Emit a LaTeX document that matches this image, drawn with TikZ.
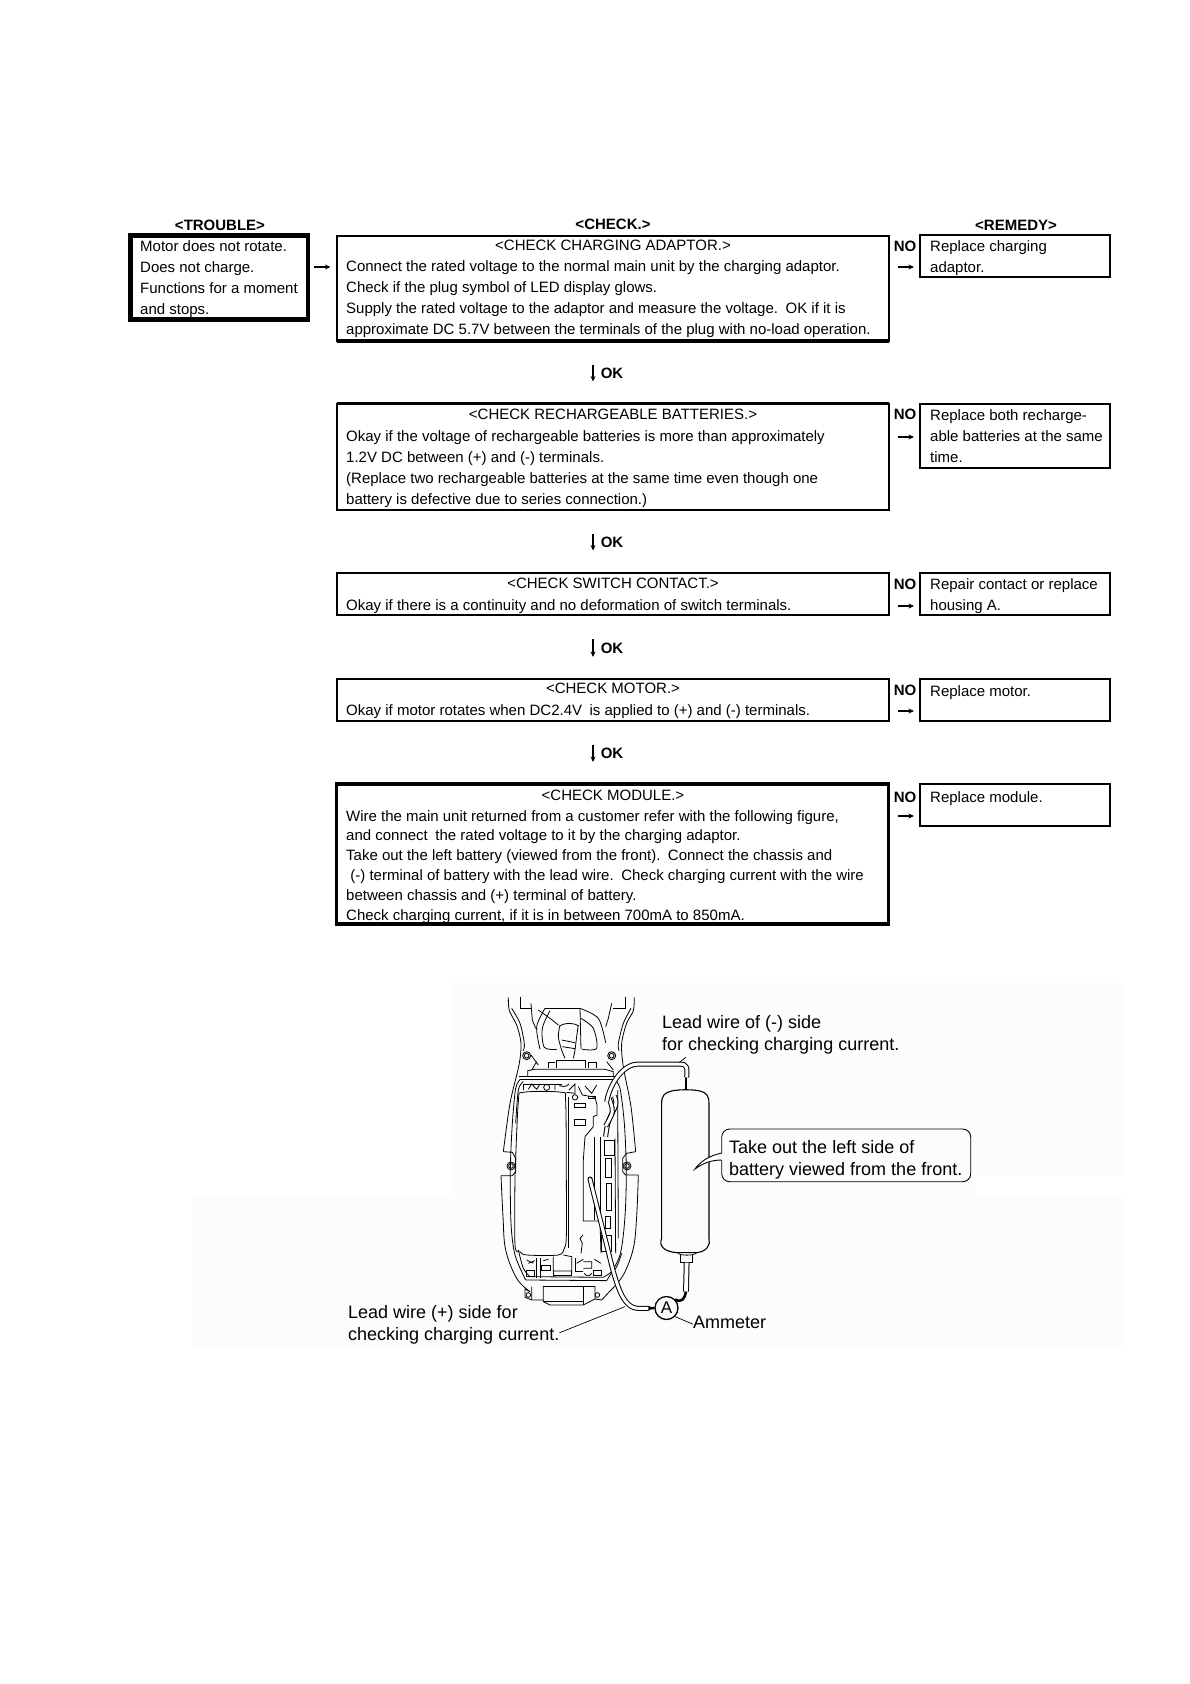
\documentclass[tikz,border=0pt]{standalone}
\usepackage{fontspec}
\setmainfont{Liberation Sans}
\usetikzlibrary{arrows.meta, positioning, calc}

\begin{document}
\begin{tikzpicture}[
    x=1pt, y=-1pt,
    framebox/.style={rectangle, draw, line width=2pt, inner sep=0pt, outer sep=0pt},
    heavybox/.style={framebox, line width=3.6pt},
    head/.style={font=\fontsize{15}{18}\selectfont\bfseries, inner sep=0pt},
    title/.style={font=\fontsize{15}{18}\selectfont, inner sep=0pt},
    body/.style={anchor=north west, inner sep=0pt, align=left, font=\fontsize{15}{21.1}\selectfont, execute at begin node=\strut},
    tagtext/.style={font=\fontsize{15}{18}\selectfont\bfseries, inner sep=0pt},
    arrow/.style={-{Stealth[length=5.5pt,width=5pt]}, line width=1.6pt},
    note/.style={anchor=north west, inner sep=0pt, align=left, font=\fontsize{18}{22}\selectfont, execute at begin node=\strut},
    leader/.style={line width=0.7pt},
    part/.style={line width=0.8pt},
    tubeout/.style={line width=5pt},
    tubein/.style={line width=3pt, white},
    darkwire/.style={line width=2.6pt},
]
\useasboundingbox (0,0) rectangle (1190,1684);

% faint scan patches behind the figure
\fill[black!1] (451,983) -- (1122,983) -- (1122,1176) -- (976,1176) -- (976,1197) -- (1122,1197) -- (1122,1348) -- (193,1348) -- (193,1197) -- (451,1197) -- cycle;

% column heads
\node[head] (troublehead) at (220,225.5) {<TROUBLE>};
\node[head] (checkhead) at (613,224) {<CHECK.>};
\node[head] (remedyhead) at (1016,225.5) {<REMEDY>};

% trouble box
\node[heavybox, line width=4.6pt, minimum width=177.5pt, minimum height=84pt] (trouble) at (219.2,277.5) {};
\node[body] (troubletext) at (140,240) {Motor does not rotate.\\Does not charge.\\Functions for a moment\\and stops.};

% check boxes
\node[framebox, minimum width=552pt, minimum height=105pt] (chargecheck) at (612.5,288) {};
\draw[line width=4pt] (chargecheck.south west) -- (chargecheck.south east);
\node[title] (chargetitle) at (613,245) {<CHECK CHARGING ADAPTOR.>};
\node[body] (chargetext) at (346,260) {Connect the rated voltage to the normal main unit by the charging adaptor.\\Check if the plug symbol of LED display glows.\\Supply the rated voltage to the adaptor and measure the voltage.\enspace OK if it is\\approximate DC 5.7V between the terminals of the plug with no-load operation.};

\node[framebox, minimum width=552pt, minimum height=106pt] (battcheck) at (612.5,456.5) {};
\draw[line width=3pt] (battcheck.north west) -- (battcheck.north east);
\node[title] (batttitle) at (613,414.6) {<CHECK RECHARGEABLE BATTERIES.>};
\node[body] (batttext) at (346,430.5) {Okay if the voltage of rechargeable batteries is more than approximately\\1.2V DC between (+) and (-) terminals.\\(Replace two rechargeable batteries at the same time even though one\\battery is defective due to series connection.)};

\node[framebox, minimum width=552pt, minimum height=42pt] (switchcheck) at (612.5,593.5) {};
\node[title] (switchtitle) at (613,583) {<CHECK SWITCH CONTACT.>};
\node[body] (switchtext) at (346,596) {Okay if there is a continuity and no deformation of switch terminals.};

\node[framebox, minimum width=552pt, minimum height=42pt] (motorcheck) at (612.5,700) {};
\node[title] (motortitle) at (613,688) {<CHECK MOTOR.>};
\node[body] (motortext) at (346,701) {Okay if motor rotates when DC2.4V\enspace is applied to (+) and (-) terminals.};

\node[heavybox, minimum width=552pt, minimum height=140pt] (modulecheck) at (612.5,854) {};
\node[title] (moduletitle) at (613,795) {<CHECK MODULE.>};
\node[body, font=\fontsize{15}{19.9}\selectfont] (moduletext) at (346,810) {Wire the main unit returned from a customer refer with the following figure,\\and connect\enspace the rated voltage to it by the charging adaptor.\\Take out the left battery (viewed from the front).\enspace Connect the chassis and\\\ (-) terminal of battery with the lead wire.\enspace Check charging current with the wire\\between chassis and (+) terminal of battery.\\Check charging current, if it is in between 700mA to 850mA.};

% remedy boxes
\node[framebox, minimum width=190pt, minimum height=42pt] (chargefix) at (1015,256) {};
\node[body] (chargefixtext) at (930,240) {Replace charging\\adaptor.};
\node[framebox, minimum width=190pt, minimum height=64pt] (battfix) at (1015,435.5) {};
\node[body] (battfixtext) at (930,409) {Replace both recharge-\\able batteries at the same\\time.};
\node[framebox, minimum width=190pt, minimum height=42pt] (switchfix) at (1015,593.5) {};
\node[body] (switchfixtext) at (930,578) {Repair contact or replace\\housing A.};
\node[framebox, minimum width=190pt, minimum height=42pt] (motorfix) at (1015,700) {};
\node[body] (motorfixtext) at (930,682) {Replace motor.};
\node[framebox, minimum width=190pt, minimum height=42pt] (modulefix) at (1015,805) {};
\node[body] (modulefixtext) at (930,788) {Replace module.};

% NO tags and side arrows
\node[tagtext] (noa) at (905,246) {NO};
\node[tagtext] (nob) at (905,414.6) {NO};
\node[tagtext] (noc) at (905,584) {NO};
\node[tagtext] (nod) at (905,690) {NO};
\node[tagtext] (noe) at (905,797) {NO};
\draw[arrow, shorten <=6pt, shorten >=6pt] (trouble.east |- 0,267) -- (chargecheck.west |- 0,267);
\draw[arrow, shorten <=9pt, shorten >=6pt] (chargecheck.east |- 0,267) -- (chargefix.west |- 0,267);
\draw[arrow, shorten <=9pt, shorten >=6pt] (battcheck.east |- 0,437) -- (battfix.west |- 0,437);
\draw[arrow, shorten <=9pt, shorten >=6pt] (switchcheck.east |- 0,606) -- (switchfix.west |- 0,606);
\draw[arrow, shorten <=9pt, shorten >=6pt] (motorcheck.east |- 0,711) -- (motorfix.west |- 0,711);
\draw[arrow, shorten <=9pt, shorten >=6pt] (modulecheck.east |- 0,816) -- (modulefix.west |- 0,816);

% OK tags and down arrows
\node[tagtext] (oka) at (612,373) {OK};
\node[tagtext] (okb) at (612,542) {OK};
\node[tagtext] (okc) at (612,648) {OK};
\node[tagtext] (okd) at (612,753) {OK};
\draw[arrow, shorten <=24pt, shorten >=22pt] (593,0 |- chargecheck.south) -- (593,0 |- battcheck.north);
\draw[arrow, shorten <=24pt, shorten >=22pt] (593,0 |- battcheck.south) -- (593,0 |- switchcheck.north);
\draw[arrow, shorten <=24pt, shorten >=22pt] (593,0 |- switchcheck.south) -- (593,0 |- motorcheck.north);
\draw[arrow, shorten <=24pt, shorten >=22pt] (593,0 |- motorcheck.south) -- (593,0 |- modulecheck.north);

% figure labels
\node[note] (minuslabel) at (662,1015) {Lead wire of (-) side\\for checking charging current.};
\node[note] (battlabel) at (729,1140) {Take out the left side of\\battery viewed from the front.};
\node[note] (pluslabel) at (348,1305.5) {Lead wire (+) side for\\checking charging current.};
\node[note] (meterlabel) at (693,1313) {Ammeter};
\node[draw, circle, line width=1.3pt, minimum size=23pt, inner sep=0pt, font=\fontsize{17}{20}\selectfont] (ammeter) at (666.5,1308) {A};

% the device, traced
\begin{scope}[shift={(495,990)}, x=0.3333pt, y=-0.3333pt]
% housing sides
\draw[part] plot[smooth, tension=.5] coordinates {(40,22)(43,62)(65,105)(78,160)(72,225)(45,340)(25,485)};
\draw[part] plot[smooth, tension=.5] coordinates {(50,55)(75,100)(88,160)(85,182)};
\draw[part] plot[smooth, tension=.5] coordinates {(418,22)(415,62)(395,100)(380,160)(385,230)(408,350)(422,485)};
\draw[part] plot[smooth, tension=.5] coordinates {(408,55)(385,100)(370,160)(372,182)};
\draw[part] (25,485) -- (52,487) -- (62,505) -- (62,545) -- (52,557) -- (18,557);
\draw[part] (422,485) -- (395,490) -- (383,505) -- (383,545) -- (392,555) -- (430,555);
\draw[part] plot[smooth, tension=.6] coordinates {(18,557)(24,680)(32,780)(65,865)(105,905)};
\draw[part] plot[smooth, tension=.6] coordinates {(430,555)(425,680)(415,775)(385,855)(345,903)};
\draw[part] (48,528) circle (12) (48,528) circle (7);
\draw[part] (396,528) circle (12) (396,528) circle (7);
\draw[part] (95,197) circle (12) (95,197) circle (7);
\draw[part] (350,197) circle (12) (350,197) circle (7);
% inner frame
\draw[part] (72,258) -- (360,258);
\draw[part] (76,268) -- (358,268);
\draw[part] plot[smooth, tension=.5] coordinates {(76,268)(62,295)(52,400)(46,540)(48,700)(60,795)(92,870)};
\draw[part] plot[smooth, tension=.5] coordinates {(358,268)(375,295)(388,400)(394,540)(390,680)(375,795)(335,872)};
\draw[part] plot[smooth, tension=.5] coordinates {(85,275)(70,300)(62,400)};
\draw[part] plot[smooth, tension=.5] coordinates {(70,780)(85,835)(105,860)};
\draw[part] plot[smooth, tension=.5] coordinates {(380,790)(362,835)(325,862)};
\draw[part] (92,870) -- (335,872);
\draw[part] (100,860) -- (325,862);
% head end
\draw[part] (75,20) -- (75,55) -- (108,55);
\draw[part] (390,20) -- (390,55) -- (355,55);
\draw[part] (108,40) -- (112,90) -- (122,115);
\draw[part] (350,40) -- (340,85) -- (332,110);
\draw[part] (150,55) -- (255,55);
\draw[part] plot[smooth] coordinates {(150,55)(125,110)(135,178)};
\draw[part] plot[smooth] coordinates {(165,62)(142,115)(148,172)(185,178)};
\draw[part] plot[smooth] coordinates {(255,55)(310,85)(332,158)};
\draw[part] plot[smooth] coordinates {(258,85)(295,115)(305,175)(262,178)};
\draw[part] plot[smooth] coordinates {(130,60)(165,85)(190,105)};
\draw[part] (255,55) -- (258,178);
\draw[part] plot[smooth] coordinates {(195,105)(190,140)(200,180)(210,205)};
\draw[part] plot[smooth] coordinates {(250,105)(245,140)(240,180)(235,205)};
\draw[part] (195,108) .. controls (205,98) and (240,98) .. (250,108);
\draw[part] (200,150) -- (240,158) (202,170) -- (240,176);
\draw[part] (185,235) -- (185,210) -- (270,210) -- (270,235);
\draw[part] (160,235) -- (160,218) -- (180,218) (280,235) -- (280,218) -- (305,218) -- (305,235);
\draw[part] (98,258) -- (98,242) -- (120,238) -- (330,238) -- (355,245) -- (355,258);
\draw[part] (108,195) -- (130,225) (110,240) -- (125,215);
\draw[part] (335,215) -- (355,240);
% battery in the unit
\draw[part] plot[smooth, tension=.5] coordinates {(60,560)(70,335)(85,307)(200,307)(212,335)(214,560)(214,740)(208,775)(190,795)(95,795)(75,785)(60,765)(60,560)};
\draw[part] (219,320) -- (219,775);
% contacts at top of the battery
\draw[part] (85,300) -- (85,282) -- (200,282);
\draw[part] (100,298) -- (110,282) -- (125,298) -- (135,282);
\draw[part] (155,292) circle (9);
\draw[part] (180,282) -- (180,300) (190,282) .. controls (195,292) and (215,292) .. (222,282);
\draw[part] (222,300) -- (240,282) -- (240,310) -- (215,307);
% middle parts
\draw[part] (240,322) circle (8);
\draw[part] (237,340) rectangle (270,352);
\draw[part] (238,388) rectangle (272,405);
\draw[part] (250,290) -- (262,315) -- (300,322) -- (306,345) -- (306,375) -- (295,380) -- (295,410) -- (270,440) -- (265,510) -- (265,693) -- (315,693);
\draw[part] (270,288) -- (290,310) -- (305,285);
\draw[part] (280,318) rectangle (300,326);
\draw[part] (264,735) -- (255,745) -- (262,760) -- (258,790);
\draw[part] (315,693) -- (318,790);
\draw[part] (298,440) -- (298,690);
\draw[part] (315,440) -- (315,690);
% module strip
\draw[part] (328,450) rectangle (358,497);
\draw[part] (332,505) rectangle (349,562);
\draw[part] (335,580) rectangle (350,660);
\draw[part] (330,680) rectangle (347,715);
\draw[part] (320,735) rectangle (350,785);
\draw[part] (360,445) -- (362,790) (368,300) -- (370,745);
% bottom end
\draw[part] (95,840) rectangle (118,860);
\draw[part] (95,810) -- (115,820) (100,820) -- (120,812);
\draw[part] (125,805) -- (125,865) (135,805) -- (135,865);
\draw[part] (140,825) rectangle (165,840);
\draw[part] (145,812) -- (160,808);
\draw[part] (175,800) -- (175,843) -- (230,843) -- (230,800) -- (205,795);
\draw[part] (175,843) -- (175,857) -- (230,857) -- (230,843);
\draw[part] (240,805) -- (240,845) -- (265,845);
\draw[part] (245,820) -- (265,808) (265,835) -- (290,835) -- (290,815) -- (265,815);
\draw[part] (295,840) rectangle (318,857);
\draw[part] (298,808) -- (318,820);
\draw[part] (268,850) .. controls (272,860) and (285,860) .. (290,850);
% foot
\draw[part] (105,905) -- (90,897) -- (90,922) -- (110,930) -- (145,930);
\draw[part] (100,915) circle (7);
\draw[part] (307,915) circle (7);
\draw[part] (110,890) -- (110,930) (145,888) -- (145,935) -- (165,945) -- (265,945) -- (300,927) -- (300,888);
\draw[part] (145,935) -- (265,935);
\draw[part] (265,890) -- (265,945) (145,888) -- (300,888);
\draw[part] (300,927) -- (320,930) -- (345,903);

% loose battery
\draw[part, line width=1.1pt] (500,340) .. controls (500,315) and (510,308) .. (530,303) .. controls (550,298) and (595,298) .. (615,303) .. controls (635,308) and (642,318) .. (642,340) -- (642,745) .. controls (648,765) and (635,785) .. (605,788) -- (545,788) .. controls (510,785) and (490,770) .. (500,745) -- cycle;
\draw[part] (548,788) .. controls (550,798) and (600,798) .. (605,788);
\draw[part] (555,795) -- (555,818) -- (592,818) -- (592,795);
\draw[darkwire, line width=2.2pt] (573,262) -- (573,298);

% wires
\coordinate (minuswire) at (553,218);
\coordinate (pluswire) at (390,950);
\coordinate (plusend) at (460,955);
\coordinate (lowerend) at (573,905);
\draw[tubeout] plot[smooth, tension=.6] coordinates {(358,318)(362,345)(340,395)(332,440)};
\draw[tubein] plot[smooth, tension=.6] coordinates {(358,318)(362,345)(340,395)(332,440)};
\draw[tubeout] plot[smooth, tension=.6] coordinates {(342,325)(352,365)(332,408)};
\draw[tubein] plot[smooth, tension=.6] coordinates {(342,325)(352,365)(332,408)};
\draw[tubeout] (335,335) .. controls (345,280) and (385,222) .. (430,222) -- (555,222) .. controls (575,222) and (578,232) .. (575,262);
\draw[tubein] (335,335) .. controls (345,280) and (385,222) .. (430,222) -- (555,222) .. controls (575,222) and (578,232) .. (575,262);
\draw[tubeout, line cap=round] (285,567) -- (340,785) .. controls (365,890) and (385,955) .. (430,955) -- (plusend);
\draw[tubein, line cap=round] (285,567) -- (340,785) .. controls (365,890) and (385,955) .. (430,955) -- (plusend);
\draw[darkwire] (plusend) -- (ammeter.west);
\draw[tubeout, line width=5.8pt] (575,818) -- (lowerend);
\draw[tubein, line width=3.8pt] (575,818) -- (lowerend);
\draw[darkwire] (ammeter.north east) .. controls (560,940) and (570,925) .. (lowerend);
\end{scope}

% leaders
\draw[leader] (minuswire) -- (minuslabel.south west -| 686,0);
\draw[leader] (pluslabel.east |- 0,1332.7) -- (pluswire);
\draw[leader] (ammeter.south east) -- (meterlabel.west);

% callout round the battery note
\draw[line width=0.9pt, fill=white] (721.7,1153) .. controls (708,1156) and (700,1162) .. (695,1169) .. controls (703,1163) and (712,1160) .. (721.7,1160);
\draw[line width=0.9pt, rounded corners=8pt] (721.7,1153) -- (721.7,1129) -- (970.7,1129) -- (970.7,1181.7) -- (721.7,1181.7) -- (721.7,1160);
\end{tikzpicture}
\end{document}
